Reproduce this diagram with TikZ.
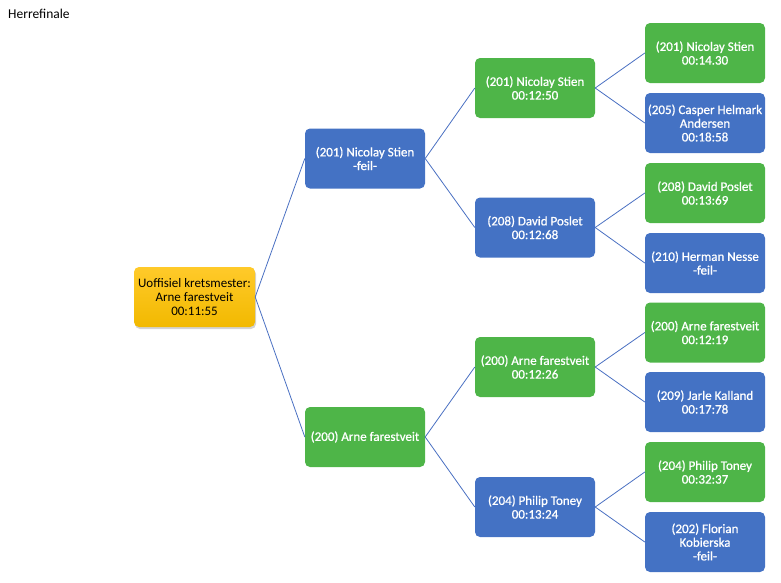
\documentclass[tikz,border=0pt]{standalone}
\usepackage{fontspec}
\setmainfont{Carlito}
\newfontfamily\boxfont[FakeBold=0.8]{Carlito}
\usetikzlibrary{shadows}
\definecolor{boxgreen}{HTML}{4EB548}
\definecolor{boxblue}{HTML}{4472C4}
\definecolor{linkblue}{HTML}{4A70C2}
\definecolor{goldtop}{HTML}{FFCA2A}
\definecolor{goldbot}{HTML}{F2B900}
\tikzset{
  tbox/.style={rectangle, rounded corners=5pt, minimum width=120pt, minimum height=60pt,
    inner sep=2pt, align=center, text=white,
    font=\fontsize{13pt}{13.7pt}\boxfont},
  gbox/.style={tbox, fill=boxgreen},
  bbox/.style={tbox, fill=boxblue},
  rootbox/.style={tbox, text=black, minimum width=121pt, top color=goldtop, bottom color=goldbot,
    font=\fontsize{13pt}{13.7pt}\selectfont,
    drop shadow={shadow xshift=1pt, shadow yshift=-2pt, opacity=0.35}},
  link/.style={draw=linkblue, line width=0.8pt}
}
\begin{document}
\begin{tikzpicture}[x=1pt,y=-1pt]
\useasboundingbox (0,0) rectangle (781,582);
\node[anchor=west, font=\fontsize{13.5pt}{14pt}\selectfont, inner sep=0pt] (title) at (8,14) {Herrefinale};

\node[rootbox] (root) at (194.5,297) {Uoffisiel kretsmester:\\Arne farestveit\\00:11:55};

\node[bbox] (a1) at (365,158.5) {(201) Nicolay Stien\\-feil-};
\node[gbox] (a2) at (365,437) {(200) Arne farestveit};

\node[gbox] (b1) at (535,88) {(201) Nicolay Stien\\00:12:50};
\node[bbox] (b2) at (535,227.5) {(208) David Poslet\\00:12:68};
\node[gbox] (b3) at (535,367) {(200) Arne farestveit\\00:12:26};
\node[bbox] (b4) at (535,507) {(204) Philip Toney\\00:13:24};

\node[gbox] (c1) at (705,53) {(201) Nicolay Stien\\00:14.30};
\node[bbox] (c2) at (705,123) {(205) Casper Helmark\\Andersen\\00:18:58};
\node[gbox] (c3) at (705,193) {(208) David Poslet\\00:13:69};
\node[bbox] (c4) at (705,263) {(210) Herman Nesse\\-feil-};
\node[gbox] (c5) at (705,332.5) {(200) Arne farestveit\\00:12:19};
\node[bbox] (c6) at (705,402) {(209) Jarle Kalland\\00:17:78};
\node[gbox] (c7) at (705,472) {(204) Philip Toney\\00:32:37};
\node[bbox] (c8) at (705,542) {(202) Florian\\Kobierska\\-feil-};

\draw[link] (root.east) -- (a1.west);
\draw[link] (root.east) -- (a2.west);
\draw[link] (a1.east) -- (b1.west);
\draw[link] (a1.east) -- (b2.west);
\draw[link] (a2.east) -- (b3.west);
\draw[link] (a2.east) -- (b4.west);
\draw[link] (b1.east) -- (c1.west);
\draw[link] (b1.east) -- (c2.west);
\draw[link] (b2.east) -- (c3.west);
\draw[link] (b2.east) -- (c4.west);
\draw[link] (b3.east) -- (c5.west);
\draw[link] (b3.east) -- (c6.west);
\draw[link] (b4.east) -- (c7.west);
\draw[link] (b4.east) -- (c8.west);
\end{tikzpicture}
\end{document}
